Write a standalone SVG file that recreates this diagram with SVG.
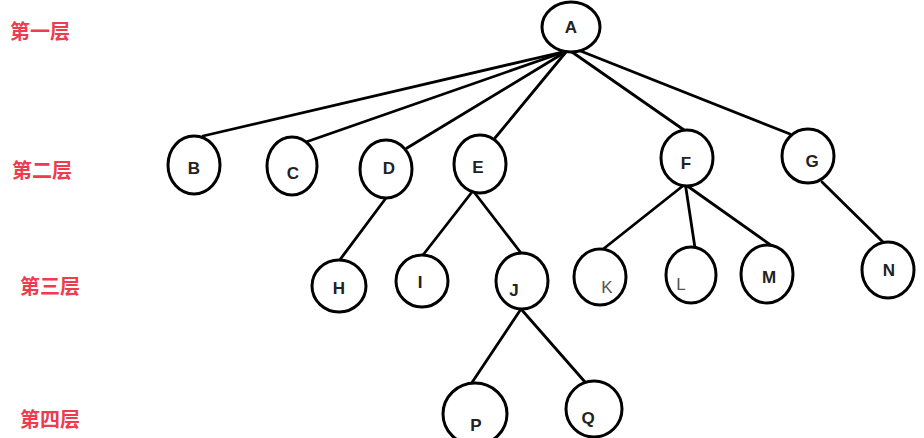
<svg xmlns="http://www.w3.org/2000/svg" width="924" height="438" viewBox="0 0 924 438">
<style>
.n ellipse{fill:#fff;stroke:#000;stroke-width:3}
.n text{font-family:"Liberation Sans",Arial,sans-serif;font-size:17px;font-weight:bold;fill:#222;text-anchor:middle}
.n text.thin{font-weight:normal;fill:#555}
#edges line{stroke:#000;stroke-width:2.8;stroke-linecap:round}
.lv{font-family:"Noto Sans CJK SC","Noto Sans",sans-serif;font-size:20px;font-weight:bold;fill:#f03a4e}
</style>
<rect width="924" height="438" fill="#fff"/>
<g id="levels">
<text class="lv" x="10" y="39">第一层</text>
<text class="lv" x="12" y="178">第二层</text>
<text class="lv" x="20" y="294">第三层</text>
<text class="lv" x="20" y="427">第四层</text>
</g>
<g id="edges">
<line x1="567" y1="51" x2="203" y2="136"/>
<line x1="567" y1="51" x2="306" y2="142"/>
<line x1="567" y1="51" x2="407" y2="148"/>
<line x1="566" y1="52" x2="495" y2="138"/>
<line x1="572" y1="52" x2="684" y2="130"/>
<line x1="578" y1="50" x2="790" y2="134"/>
<line x1="386" y1="198" x2="339" y2="261"/>
<line x1="472" y1="192" x2="423" y2="255"/>
<line x1="474" y1="192" x2="521" y2="253"/>
<line x1="684" y1="185" x2="602" y2="250"/>
<line x1="685" y1="182" x2="695" y2="248"/>
<line x1="686" y1="185" x2="772" y2="246"/>
<line x1="822" y1="182" x2="884" y2="243"/>
<line x1="521" y1="309" x2="471" y2="384"/>
<line x1="521" y1="309" x2="585" y2="382"/>
</g>
<g id="A" class="n"><ellipse cx="571" cy="27" rx="29" ry="25"/><text x="571" y="33">A</text></g>
<g id="B" class="n"><ellipse cx="194" cy="165" rx="26" ry="29"/><text x="194" y="174">B</text></g>
<g id="C" class="n"><ellipse cx="292" cy="166" rx="25" ry="29"/><text x="293" y="179">C</text></g>
<g id="D" class="n"><ellipse cx="386" cy="169" rx="26" ry="29"/><text x="389" y="174">D</text></g>
<g id="E" class="n"><ellipse cx="480" cy="164" rx="26" ry="29"/><text x="478" y="173">E</text></g>
<g id="F" class="n"><ellipse cx="687" cy="158" rx="26" ry="28"/><text x="686" y="169">F</text></g>
<g id="G" class="n"><ellipse cx="808" cy="156" rx="26" ry="27"/><text x="812" y="167">G</text></g>
<g id="H" class="n"><ellipse cx="339" cy="286" rx="27" ry="26"/><text x="339" y="294">H</text></g>
<g id="I" class="n"><ellipse cx="422" cy="281" rx="26" ry="26"/><text x="420" y="288">I</text></g>
<g id="J" class="n"><ellipse cx="522" cy="281" rx="26" ry="28"/><text x="514" y="296">J</text></g>
<g id="K" class="n"><ellipse cx="600" cy="277" rx="26" ry="28"/><text class="thin" x="607" y="293">K</text></g>
<g id="L" class="n"><ellipse cx="691" cy="275" rx="25" ry="28"/><text class="thin" x="681" y="290">L</text></g>
<g id="M" class="n"><ellipse cx="767" cy="274" rx="26" ry="29"/><text x="769" y="283">M</text></g>
<g id="N" class="n"><ellipse cx="888" cy="270" rx="26" ry="28"/><text x="889" y="276">N</text></g>
<g id="P" class="n"><ellipse cx="475" cy="414" rx="32" ry="31"/><text x="476" y="431">P</text></g>
<g id="Q" class="n"><ellipse cx="594" cy="409" rx="28" ry="28"/><text x="588" y="424">Q</text></g>
</svg>
